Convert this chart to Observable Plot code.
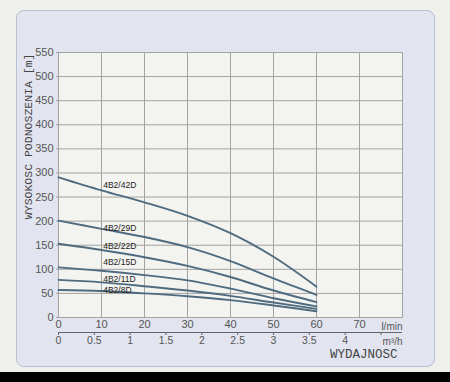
<!DOCTYPE html>
<html>
<head>
<meta charset="utf-8">
<script src="https://cdn.jsdelivr.net/npm/d3@7"></script>
<script src="https://cdn.jsdelivr.net/npm/@observablehq/plot@0.6"></script>
<style>
  html, body { margin: 0; padding: 0; }
  body { width: 450px; height: 382px; background: #efefeb; position: relative; overflow: hidden; font-family: "Liberation Sans", Arial, sans-serif; }
  #panel { position: absolute; left: 16px; top: 10px; width: 419px; height: 357px; background: #e2e5f0; border: 1px solid #b9c0cf; border-radius: 8px; box-sizing: border-box; }
  #strip { position: absolute; left: 0; top: 372px; width: 450px; height: 10px; background: #000; }
  #chart { position: absolute; left: 0; top: 0; }
</style>
</head>
<body>
<div id="panel"></div>
<div id="strip"></div>
<div id="chart"></div>
<script>
// Flow points (l/min)
const flow = [0, 10, 20, 30, 40, 50, 60];
// Head values [m] per pump model
const h42D = [291, 264, 239, 211, 175, 126, 64];
const h29D = [201, 184, 167, 146, 117, 81, 47];
const h22D = [153, 140, 125, 107, 84, 56, 32];
const h15D = [104, 97, 88, 77, 60, 40, 23];
const h11D = [78, 73, 65, 56, 45, 31, 18];
const h8D  = [57, 55, 50, 44, 36, 25, 13];
const models = ["4B2/42D", "4B2/29D", "4B2/22D", "4B2/15D", "4B2/11D", "4B2/8D"];
const labelY = [274, 185, 148, 114, 79, 56];
const labelX = 10.4;

const xTicks = [0, 10, 20, 30, 40, 50, 60, 70];
const yTicks = [0, 50, 100, 150, 200, 250, 300, 350, 400, 450, 500, 550];
const m3Ticks = [0, 0.5, 1, 1.5, 2, 2.5, 3, 3.5, 4, 4.5];
const m3Labels = ["0", "0.5", "1", "1.5", "2", "2.5", "3", "3.5", "4", ""];

const series = [h42D, h29D, h22D, h15D, h11D, h8D];
const rows = [];
series.forEach((vals, i) => vals.forEach((v, j) => rows.push({model: models[i], q: flow[j], h: v})));
const labels = models.map((m, i) => ({model: m, q: labelX, h: labelY[i]}));
const m3Pos = m3Ticks.map(t => t * 1000 / 60);

const lineColor = "#4e6b80";
const gridColor = "#a3a3a3";
const textColor = "#555";

const chart = Plot.plot({
  width: 450,
  height: 382,
  marginLeft: 58,
  marginRight: 48,
  marginTop: 52,
  marginBottom: 65,
  style: {background: "transparent", fontFamily: "Liberation Sans, Arial, sans-serif", fontSize: "11px", color: textColor},
  x: {domain: [0, 80]},
  y: {domain: [0, 550]},
  marks: [
    Plot.frame({fill: "#f3f3f0", stroke: "none"}),
    Plot.gridX(xTicks.concat([80]), {stroke: gridColor, strokeOpacity: 1, strokeWidth: 1}),
    Plot.gridY(yTicks, {stroke: gridColor, strokeOpacity: 1, strokeWidth: 1}),
    Plot.frame({stroke: gridColor, strokeWidth: 1}),
    Plot.axisY(yTicks, {label: null, tickSize: 2, tickPadding: 3, fontSize: 11, fill: textColor, stroke: gridColor}),
    Plot.axisX(xTicks, {label: null, tickSize: 0, tickPadding: 3, fontSize: 11, fill: textColor}),
    Plot.text(["l/min"], {x: 80, y: 0, dy: 9, textAnchor: "end", fontSize: 10, fill: textColor}),
    Plot.ruleY([0], {x1: 0, x2: 80, dy: 15, stroke: "#666", strokeWidth: 1}),
    Plot.axisX(m3Pos, {label: null, anchor: "bottom", dy: 15, tickSize: 3, tickPadding: 1, fontSize: 10.5, fill: textColor, stroke: "#666",
      tickFormat: (d, i) => m3Labels[i]}),
    Plot.text(["m\u00b3/h"], {x: 80, y: 0, dy: 24, textAnchor: "end", fontSize: 10, fill: textColor}),
    Plot.line(rows, {x: "q", y: "h", z: "model", stroke: lineColor, strokeWidth: 1.9, curve: "catmull-rom"}),
    Plot.text(labels, {x: "q", y: "h", text: "model", textAnchor: "start", fontSize: 8.5, fill: "#222", fontFamily: "Liberation Sans, Arial, sans-serif"}),
    Plot.text(["WYSOKOSC PODNOSZENIA [m]"], {frameAnchor: "top-left", dx: -35, dy: 1, rotate: -90, textAnchor: "end",
      fontFamily: "Liberation Mono, DejaVu Sans Mono, monospace", fontSize: 11.5, fill: "#444"}),
    Plot.text(["WYDAJNOSC"], {frameAnchor: "bottom-right", dx: -5, dy: 40, textAnchor: "end",
      fontFamily: "Liberation Mono, DejaVu Sans Mono, monospace", fontSize: 12.5, fill: "#444"})
  ]
});
document.getElementById("chart").appendChild(chart);
</script>
</body>
</html>
